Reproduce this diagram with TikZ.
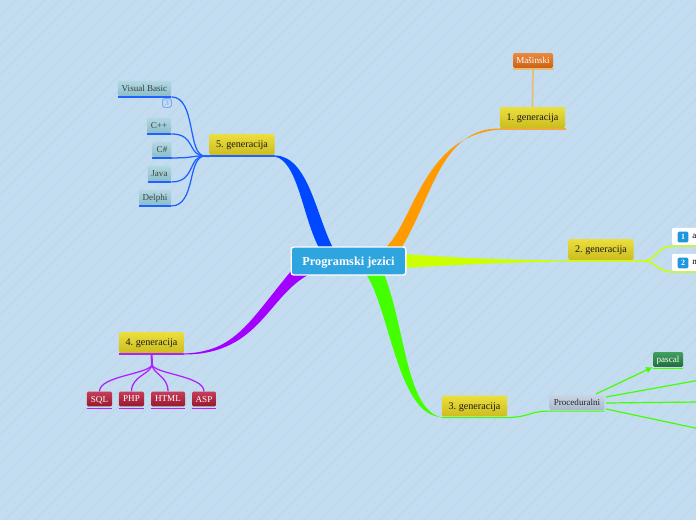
\documentclass[tikz,border=0pt]{standalone}
\usepackage{fontspec}
\setmainfont{Liberation Serif}
\usepackage{xcolor}
\usetikzlibrary{arrows.meta,calc,positioning}
\frenchspacing
\definecolor{paperblue}{HTML}{C3DCEF}
\definecolor{stripeblue}{HTML}{B9D5EA}
\definecolor{rootblue}{HTML}{2FA5DF}
\definecolor{branchorange}{HTML}{FF9A00}
\definecolor{branchlime}{HTML}{CCFF00}
\definecolor{branchgreen}{HTML}{44FF00}
\definecolor{branchpurple}{HTML}{A400FF}
\definecolor{branchblue}{HTML}{0048FF}
\definecolor{linkblue}{HTML}{1F62FF}
\definecolor{linkpurple}{HTML}{AE22FF}
\definecolor{linktan}{HTML}{E9BC78}
\definecolor{badgeblue}{HTML}{1E96E0}
\definecolor{softbadge}{HTML}{7FA8F5}
\definecolor{topictop}{HTML}{EBDF3E}
\definecolor{topicbot}{HTML}{CDBC1E}
\definecolor{tealtop}{HTML}{B2D9E3}
\definecolor{tealbot}{HTML}{8ABDCA}
\definecolor{redtop}{HTML}{C63D58}
\definecolor{redbot}{HTML}{98182F}
\definecolor{orangetop}{HTML}{E98A40}
\definecolor{orangebot}{HTML}{CB6212}
\definecolor{greentop}{HTML}{409F60}
\definecolor{greenbot}{HTML}{1F6F39}
\definecolor{graytop}{HTML}{C8D5E4}
\definecolor{graybot}{HTML}{A9B9CD}
\tikzset{
  rootnode/.style={draw=white, line width=1pt, fill=rootblue, rounded corners=2pt, text=white, text depth=0pt, font=\fontsize{9.2}{11}\selectfont\bfseries, minimum width=86pt, minimum height=21pt, inner sep=0pt},
  topicnode/.style={top color=topictop, bottom color=topicbot, rounded corners=1pt, text depth=0pt, font=\fontsize{7.6}{9}\selectfont, text=black!90, minimum width=49pt, minimum height=15.5pt, inner sep=0pt},
  leafnode/.style={rounded corners=1pt, text depth=0pt, font=\fontsize{6.8}{8}\selectfont, minimum height=11pt, inner sep=0pt},
  tealnode/.style={leafnode, top color=tealtop, bottom color=tealbot, text=black!75, minimum height=11.5pt},
  redleaf/.style={leafnode, top color=redtop, bottom color=redbot, text=white},
  orangeleaf/.style={leafnode, top color=orangetop, bottom color=orangebot, text=white},
  greenleaf/.style={leafnode, top color=greentop, bottom color=greenbot, text=white},
  grayleaf/.style={leafnode, top color=graytop, bottom color=graybot, text=black!85},
  whitenode/.style={fill=white, rounded corners=1pt, minimum height=13pt, minimum width=24pt, inner sep=0pt},
  badgenode/.style={fill=badgeblue, rounded corners=1pt, text=white, font=\fontsize{6}{7}\selectfont\bfseries, minimum size=8pt, inner sep=0pt},
  itemtext/.style={font=\fontsize{6.8}{8}\selectfont, anchor=west, inner sep=0pt},
  countnode/.style={draw=softbadge, line width=0.7pt, rounded corners=1.5pt, text=softbadge, font=\fontsize{5.5}{5.5}\selectfont, minimum size=6.5pt, inner sep=0pt},
  bluelink/.style={linkblue, line width=0.95pt},
  purplelink/.style={linkpurple, line width=0.95pt},
  greenlink/.style={branchgreen, line width=0.9pt},
  limelink/.style={branchlime, line width=1.1pt},
  tanlink/.style={linktan, line width=1.3pt}
}
\begin{document}
\begin{tikzpicture}[x=0.75pt,y=-0.75pt]
  \useasboundingbox (0,0) rectangle (696,520);
  \clip (0,0) rectangle (696,520);
  \fill[paperblue] (0,0) rectangle (696,520);
  \foreach \xx in {0,15,...,1215}{
    \draw[stripeblue,line width=0.4pt] (\xx,0) -- ({\xx-520},520);
  }
  % main branches
  \fill[branchorange] (500,128.5) .. controls (440,128) and (432,200) .. (400,250) -- (382,250) .. controls (412,232) and (420,135) .. (500,129.5) -- cycle;
  \fill[branchlime] (404,254) .. controls (470,259) and (520,260) .. (570,260.5) -- (570,261.5) .. controls (520,262) and (470,264) .. (404,268) -- cycle;
  \fill[branchgreen] (366,274) .. controls (390,310) and (398,417) .. (442,417) -- (442,417.5) .. controls (406,410) and (406,330) .. (384,274) -- cycle;
  \fill[branchpurple] (184,353.5) .. controls (236,352) and (250,320) .. (292,270) -- (310,274) .. controls (268,295) and (260,354.5) .. (184,354.5) -- cycle;
  \fill[branchblue] (275,155.5) .. controls (308,156) and (316,215) .. (333,248) -- (319,248) .. controls (302,215) and (298,162) .. (275,156.5) -- cycle;
  % nodes
  \node[rootnode] (root) at (348.5,261) {Programski jezici};
  \node[topicnode] (gen1) at (532.5,117.5) {1. generacija};
  \node[topicnode] (gen2) at (601,249.5) {2. generacija};
  \node[topicnode] (gen3) at (474.5,406) {3. generacija};
  \node[topicnode] (gen4) at (151.5,342.5) {4. generacija};
  \node[topicnode] (gen5) at (242,144.5) {5. generacija};
  \node[orangeleaf,minimum width=30pt] (masinski) at (533,60.5) {Mašinski};
  \node[tealnode,minimum width=40pt] (vb) at (144.5,88.5) {Visual Basic};
  \node[countnode] (vbcount) at (167,103) {3};
  \node[tealnode,minimum width=18pt] (cpp) at (159,125.5) {C++};
  \node[tealnode,minimum width=14pt] (csharp) at (162,149.5) {C\#};
  \node[tealnode,minimum width=17.5pt] (java) at (159.5,173.5) {Java};
  \node[tealnode,minimum width=24pt] (delphi) at (155,197.5) {Delphi};
  \node[redleaf,minimum width=19pt] (sql) at (99.5,399) {SQL};
  \node[redleaf,minimum width=19pt] (php) at (131.5,399) {PHP};
  \node[redleaf,minimum width=25.5pt] (html) at (168,399) {HTML};
  \node[redleaf,minimum width=18pt] (asp) at (204,399) {ASP};
  \node[whitenode] (item1) at (688,236.5) {};
  \node[whitenode] (item2) at (688,262.5) {};
  \node[badgenode] (badge1) at (683,237) {1};
  \node[badgenode] (badge2) at (683,263) {2};
  \node[itemtext] (item1text) at (692,236.5) {a};
  \node[itemtext] (item2text) at (692,262.5) {n};
  \node[grayleaf,minimum width=41pt] (proc) at (577,402.5) {Proceduralni};
  \node[greenleaf,minimum width=22.5pt] (pascal) at (668,359.5) {pascal};
  \coordinate (free1) at (700,380);
  \coordinate (free2) at (700,402);
  \coordinate (free3) at (700,429);
  \coordinate (fork5) at (205,156);
  \coordinate (fork4) at (152,364);
  \coordinate (fork2) at (644,261);
  % underlines
  \draw[tanlink] ($(masinski.south west)+(0,1)$) -- ($(masinski.south east)+(1,1)$);
  \draw[branchorange!75!paperblue,line width=1pt] ($(gen1.south west)+(0,1)$) -- ($(gen1.south east)+(1,1)$);
  \draw[limelink] ($(gen2.south west)+(0,1)$) -- ($(gen2.south east)+(0,1)$) -- (fork2);
  \draw[greenlink] ($(gen3.south west)+(0,1)$) -- ($(gen3.south east)+(0,1)$) .. controls (530,417) and (530,411) .. ($(proc.south west)+(0,1)$) -- ($(proc.south east)+(0,1)$);
  \draw[purplelink,line width=1.2pt] ($(gen4.south west)+(0,1)$) -- ($(gen4.south east)+(0,1)$);
  \draw[bluelink,line width=1.5pt] (fork5) -- ($(gen5.south west)+(0,1)$);
  \draw[bluelink] ($(gen5.south west)+(0,1)$) -- ($(gen5.south east)+(0,1)$);
  \foreach \nn in {vb,cpp,csharp,java,delphi}{
    \draw[bluelink] ($(\nn.south west)+(0,0.5)$) -- ($(\nn.south east)+(0,0.5)$);
    \draw[bluelink] ($(\nn.south east)+(0,0.5)$) .. controls ($(\nn.south east)+(25,0.5)$) and ($(fork5)+(-18,0)$) .. (fork5);
  }
  \foreach \nn in {sql,php,html,asp}{
    \draw[purplelink] ($(\nn.south west)+(0,2)$) -- ($(\nn.south east)+(0,2)$);
    \draw[purplelink] (\nn.north) .. controls ($(\nn.north)+(0,-16)$) and ($(fork4)+(0,10)$) .. (fork4);
  }
  \draw[purplelink,line width=1.5pt] (gen4.south) -- (fork4);
  % connectors to the right
  \draw[tanlink] (masinski.south) -- (gen1.north);
  \draw[limelink] (fork2) .. controls (655,261) and (658,246) .. (672,246) -- (696,246);
  \draw[limelink] (fork2) .. controls (655,261) and (658,272) .. (672,272) -- (696,272);
  \draw[greenlink,-{Latex[length=5pt,width=5pt]}] (596,394) -- (pascal.south west);
  \draw[greenlink] ($(pascal.south west)+(0,1)$) -- ($(pascal.south east)+(0,1)$);
  \draw[greenlink] (606,397) -- (free1);
  \draw[greenlink] (606,403) -- (free2);
  \draw[greenlink] (606,409) -- (free3);
\end{tikzpicture}
\end{document}
